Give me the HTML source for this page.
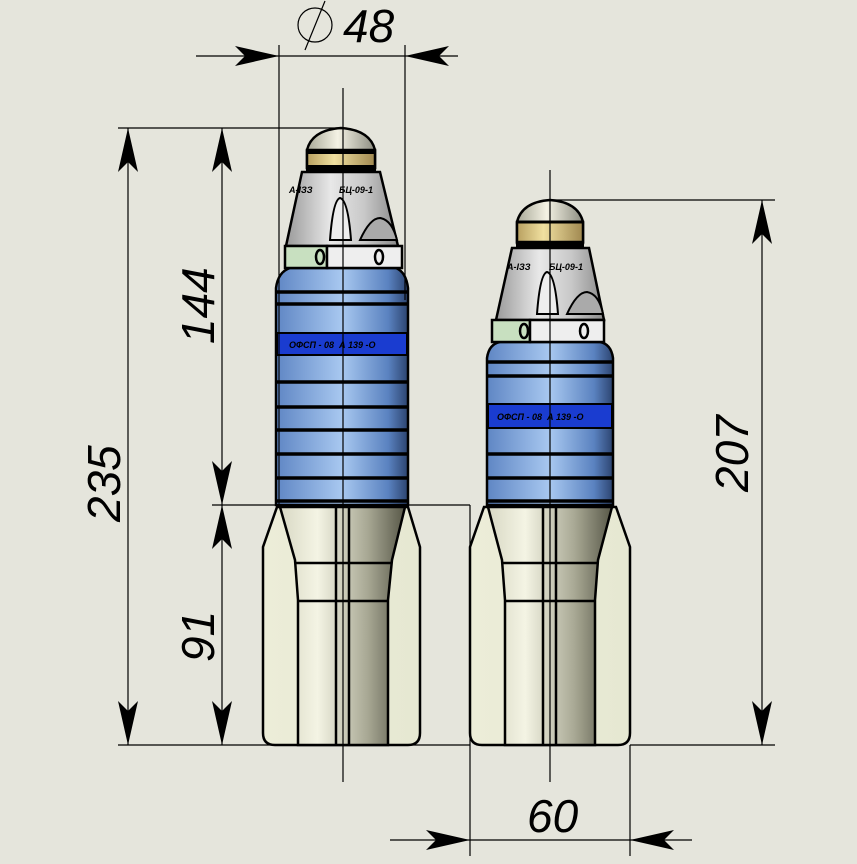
<!DOCTYPE html>
<html><head><meta charset="utf-8"><style>
html,body{margin:0;padding:0;background:#e5e5dc;}
svg{display:block}
text{font-family:"Liberation Sans",sans-serif;font-style:italic;fill:#000}
</style></head><body>
<svg width="857" height="864" viewBox="0 0 857 864" xmlns="http://www.w3.org/2000/svg">
<defs>
<linearGradient id="blue" x1="0" x2="1"><stop offset="0" stop-color="#5f86c4"/><stop offset="0.5" stop-color="#a8c8f0"/><stop offset="0.85" stop-color="#5a82c0"/><stop offset="1" stop-color="#2c4470"/></linearGradient>
<linearGradient id="silver" x1="0" x2="1"><stop offset="0" stop-color="#9a9a9a"/><stop offset="0.4" stop-color="#e8e8e8"/><stop offset="0.7" stop-color="#c8c8c8"/><stop offset="1" stop-color="#8a8a8a"/></linearGradient>
<linearGradient id="gold" x1="0" x2="1"><stop offset="0" stop-color="#b8a060"/><stop offset="0.4" stop-color="#f0e0a0"/><stop offset="1" stop-color="#a08850"/></linearGradient>
<linearGradient id="cap" x1="0" x2="1"><stop offset="0" stop-color="#a8a898"/><stop offset="0.45" stop-color="#f4f2e4"/><stop offset="1" stop-color="#8c8c80"/></linearGradient>
<linearGradient id="tube" x1="0" x2="1"><stop offset="0" stop-color="#d8d8c4"/><stop offset="0.3" stop-color="#f4f4e4"/><stop offset="0.7" stop-color="#a8a894"/><stop offset="1" stop-color="#585848"/></linearGradient>
<linearGradient id="fin" x1="0" x2="1"><stop offset="0" stop-color="#ecedd8"/><stop offset="1" stop-color="#e6e8d2"/></linearGradient>
</defs>

<!-- LEFT PROJECTILE -->
<g stroke="#000" stroke-width="2.5">
<path d="M277,507 L263,547 L263,733 Q263,745 275,745 L408,745 Q420,745 420,733 L420,547 L408,507 Z" fill="url(#fin)"/>
<path d="M280,507 L295,560 L298,600 L298,745 L388,745 L388,600 L392,560 L405,507 Z" fill="url(#tube)"/>
<line x1="295" y1="563" x2="392" y2="563"/><line x1="298" y1="601" x2="388" y2="601"/>
<line x1="336" y1="507" x2="336" y2="745"/><line x1="349" y1="507" x2="349" y2="745"/>
<path d="M276,505 L276,288 Q278,272 290,268 L396,268 Q406,272 408,288 L408,505 Z" fill="url(#blue)"/>
<rect x="277" y="333" width="130" height="22" fill="#1a3cd0" stroke-width="2"/>
<g stroke-width="3.5"><line x1="277" y1="292" x2="407" y2="292"/><line x1="277" y1="304" x2="407" y2="304"/><line x1="277" y1="382" x2="407" y2="382"/><line x1="277" y1="407" x2="407" y2="407"/><line x1="277" y1="430" x2="407" y2="430"/><line x1="277" y1="454" x2="407" y2="454"/><line x1="277" y1="478" x2="407" y2="478"/><line x1="277" y1="501" x2="407" y2="501"/></g>
<path d="M302,172 L380,172 L398,246 L286,246 Z" fill="url(#silver)"/>
<path d="M330,240 Q333,200 340,198 Q348,200 351,240 Z" fill="#eee" stroke-width="2"/>
<path d="M360,240 Q370,218 380,218 Q392,220 397,240 Z" fill="#aaa" stroke-width="2"/>
<rect x="285" y="246" width="42" height="22" fill="#c8e0c0"/>
<rect x="327" y="246" width="75" height="22" fill="#eee"/>
<ellipse cx="320" cy="257" rx="4" ry="7" fill="none"/><ellipse cx="379" cy="257" rx="4" ry="7" fill="none"/>
<path d="M307,168 L307,150 Q312,130 341,128 Q370,130 375,150 L375,168 Z" fill="url(#cap)"/>
<rect x="307" y="150" width="68" height="18" fill="url(#gold)"/>
<line x1="306" y1="152" x2="376" y2="152" stroke-width="4"/><line x1="306" y1="168" x2="376" y2="168" stroke-width="6"/>
</g>
<text x="289" y="193" font-size="9" font-style="normal" font-weight="bold">A-IЗЗ</text>
<text x="339" y="193" font-size="9" font-style="normal" font-weight="bold">БЦ-09-1</text>
<text x="289" y="348" font-size="9" font-style="normal" font-weight="bold">ОФСП - 08&#160;&#160;А 139 -О</text>

<!-- RIGHT PROJECTILE -->
<g stroke="#000" stroke-width="2.5">
<path d="M484,507 L470,547 L470,733 Q470,745 482,745 L618,745 Q630,745 630,733 L630,547 L616,507 Z" fill="url(#fin)"/>
<path d="M488,507 L502,560 L505,600 L505,745 L595,745 L595,600 L598,560 L612,507 Z" fill="url(#tube)"/>
<line x1="502" y1="563" x2="598" y2="563"/><line x1="505" y1="601" x2="595" y2="601"/>
<line x1="543" y1="507" x2="543" y2="745"/><line x1="556" y1="507" x2="556" y2="745"/>
<path d="M487,505 L487,358 Q489,344 500,342 L600,342 Q611,344 613,358 L613,505 Z" fill="url(#blue)"/>
<rect x="488" y="404" width="124" height="24" fill="#1a3cd0" stroke-width="2"/>
<g stroke-width="3.5"><line x1="488" y1="362" x2="612" y2="362"/><line x1="488" y1="376" x2="612" y2="376"/><line x1="488" y1="454" x2="612" y2="454"/><line x1="488" y1="478" x2="612" y2="478"/><line x1="488" y1="501" x2="612" y2="501"/></g>
<path d="M512,248 L589,248 L604,320 L496,320 Z" fill="url(#silver)"/>
<path d="M537,314 Q540,274 547,272 Q555,274 558,314 Z" fill="#eee" stroke-width="2"/>
<path d="M567,314 Q577,292 587,292 Q599,294 603,314 Z" fill="#aaa" stroke-width="2"/>
<rect x="492" y="320" width="38" height="22" fill="#c8e0c0"/>
<rect x="530" y="320" width="74" height="22" fill="#eee"/>
<ellipse cx="524" cy="331" rx="4" ry="7" fill="none"/><ellipse cx="584" cy="331" rx="4" ry="7" fill="none"/>
<path d="M517,243 L517,222 Q522,202 550,200 Q578,202 583,222 L583,243 Z" fill="url(#cap)"/>
<rect x="517" y="222" width="66" height="20" fill="url(#gold)"/>
<line x1="516" y1="222" x2="584" y2="222" stroke-width="3"/><line x1="516" y1="244" x2="584" y2="244" stroke-width="6"/>
</g>
<text x="507" y="270" font-size="9" font-style="normal" font-weight="bold">A-IЗЗ</text>
<text x="549" y="270" font-size="9" font-style="normal" font-weight="bold">БЦ-09-1</text>
<text x="497" y="420" font-size="9" font-style="normal" font-weight="bold">ОФСП - 08&#160;&#160;А 139 -О</text>

<!-- DIMENSION LINES -->
<g stroke="#000" stroke-width="1.2" fill="none">
<line x1="343" y1="88" x2="343" y2="782"/><line x1="550" y1="170" x2="550" y2="782"/>
<line x1="196" y1="56" x2="458" y2="56"/>
<line x1="279" y1="45" x2="279" y2="507"/><line x1="405" y1="45" x2="405" y2="300"/>
<line x1="118" y1="128" x2="342" y2="128"/>
<line x1="118" y1="745" x2="470" y2="745"/>
<line x1="212" y1="505" x2="470" y2="505"/>
<line x1="128" y1="128" x2="128" y2="745"/>
<line x1="222" y1="128" x2="222" y2="745"/>
<line x1="550" y1="200" x2="775" y2="200"/><line x1="630" y1="745" x2="775" y2="745"/>
<line x1="762" y1="200" x2="762" y2="745"/>
<line x1="390" y1="840" x2="692" y2="840"/>
<line x1="470" y1="505" x2="470" y2="856"/><line x1="630" y1="745" x2="630" y2="856"/>
<circle cx="315" cy="25" r="17"/><line x1="305" y1="50" x2="325" y2="1"/>
</g>
<g fill="#000">
<path d="M279,56 L235,46 L245,56 L235,66 Z"/><path d="M405,56 L449,46 L439,56 L449,66 Z"/>
<path d="M128,128 L118,172 L128,162 L138,172 Z"/><path d="M128,745 L118,701 L128,711 L138,701 Z"/>
<path d="M222,128 L212,172 L222,162 L232,172 Z"/><path d="M222,505 L212,461 L222,471 L232,461 Z"/>
<path d="M222,505 L212,549 L222,539 L232,549 Z"/><path d="M222,745 L212,701 L222,711 L232,701 Z"/>
<path d="M762,200 L752,244 L762,234 L772,244 Z"/><path d="M762,745 L752,701 L762,711 L772,701 Z"/>
<path d="M470,840 L426,830 L436,840 L426,850 Z"/><path d="M630,840 L674,830 L664,840 L674,850 Z"/>
</g>
<text x="343" y="42" font-size="46">48</text>
<text x="527" y="832" font-size="46">60</text>
<text transform="translate(120,522) rotate(-90)" font-size="46">235</text>
<text transform="translate(214,344) rotate(-90)" font-size="46">144</text>
<text transform="translate(214,662) rotate(-90)" font-size="46">91</text>
<text transform="translate(748,492) rotate(-90)" font-size="46">207</text>
</svg>
</body></html>
